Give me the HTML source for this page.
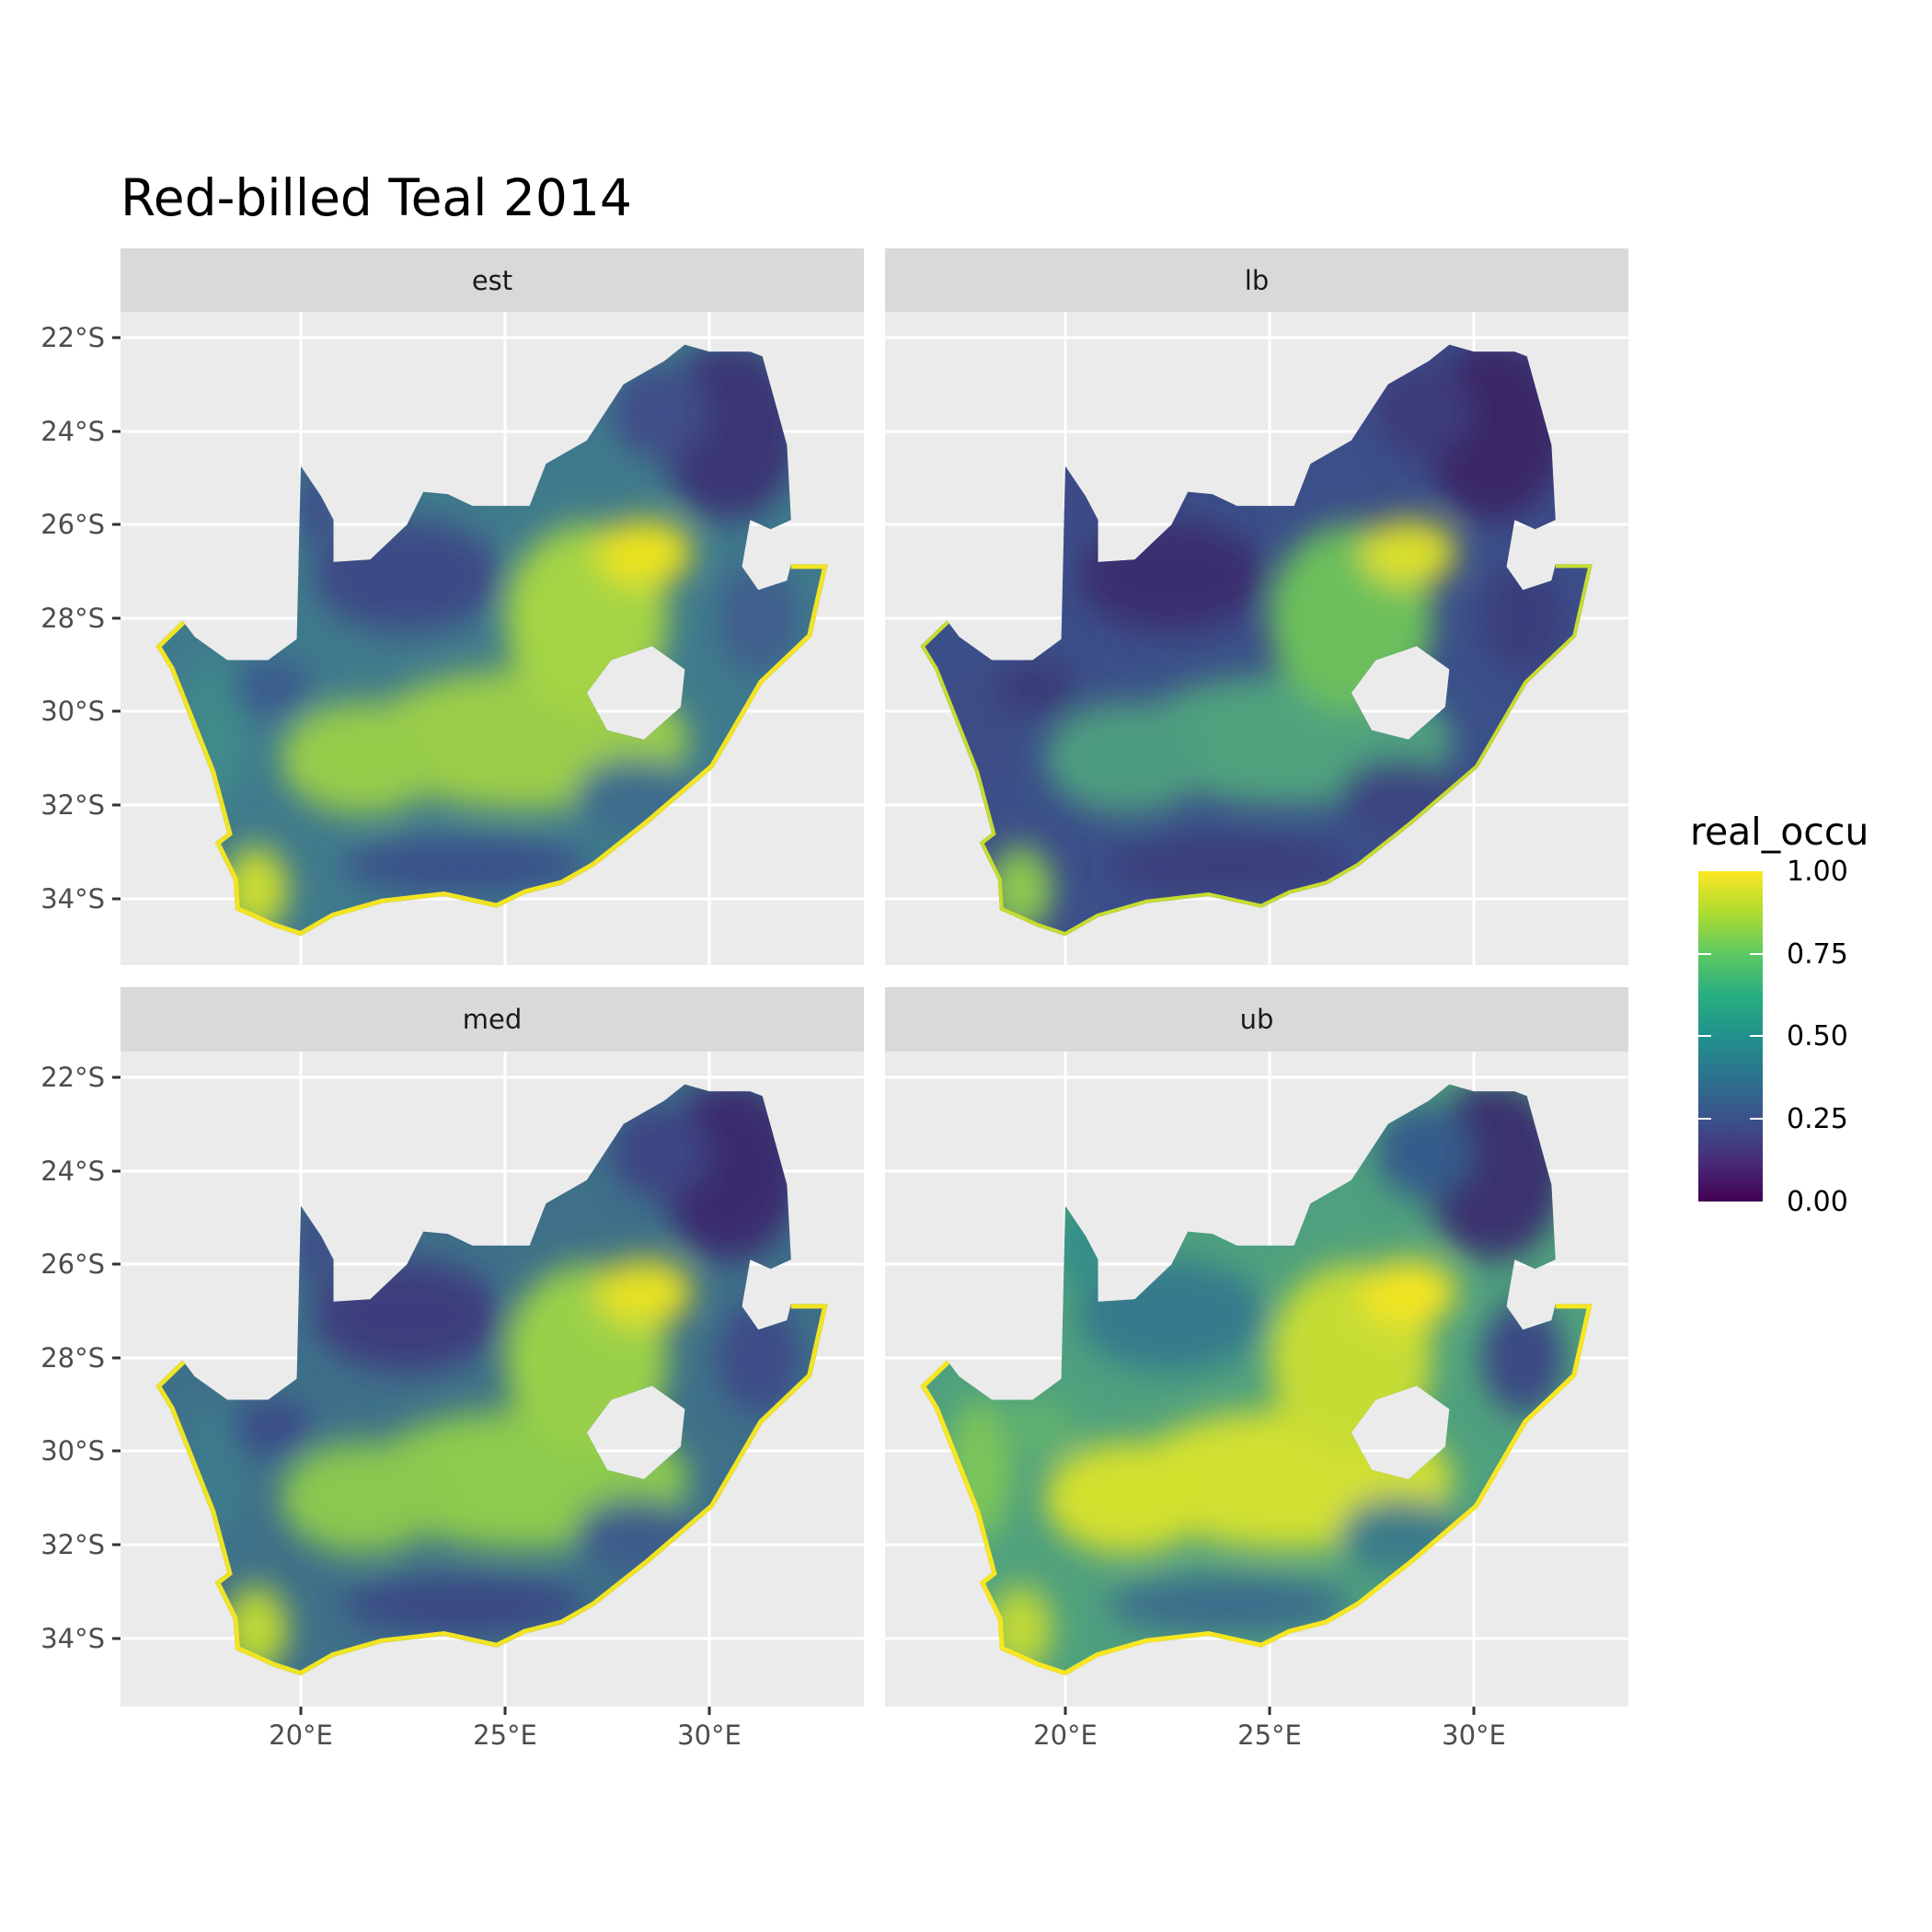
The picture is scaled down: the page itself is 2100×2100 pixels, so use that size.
<!DOCTYPE html>
<html><head><meta charset="utf-8"><style>html,body{margin:0;padding:0;background:#fff}svg{display:block}text{font-family:"DejaVu Sans","Liberation Sans",sans-serif}</style></head>
<body>
<svg width="2100" height="2100" viewBox="0 0 2100 2100" xmlns="http://www.w3.org/2000/svg">
<defs>
<linearGradient id="vir" x1="0" y1="1" x2="0" y2="0">
<stop offset="0" stop-color="#440154"/><stop offset="0.125" stop-color="#472d7b"/><stop offset="0.25" stop-color="#3b528b"/><stop offset="0.375" stop-color="#2c728e"/><stop offset="0.5" stop-color="#21918c"/><stop offset="0.625" stop-color="#28ae80"/><stop offset="0.75" stop-color="#5ec962"/><stop offset="0.875" stop-color="#addc30"/><stop offset="1" stop-color="#fde725"/>
</linearGradient>
<clipPath id="clip"><path clip-rule="evenodd" d="M16.45,28.6 L17.1,28.05 L17.4,28.4 L18.2,28.9 L19.2,28.9 L19.9,28.45 L20.0,24.75 L20.5,25.4 L20.8,25.9 L20.8,26.8 L21.7,26.75 L22.6,26.0 L23.0,25.3 L23.6,25.35 L24.2,25.6 L25.6,25.6 L26.0,24.7 L27.0,24.2 L27.9,23.0 L28.9,22.5 L29.4,22.15 L30.0,22.3 L31.0,22.3 L31.3,22.4 L31.9,24.3 L32.0,25.9 L31.5,26.1 L31.0,25.9 L30.9,26.4 L30.8,26.9 L31.2,27.4 L31.9,27.2 L32.0,26.85 L32.9,26.85 L32.5,28.4 L31.3,29.4 L30.1,31.2 L28.5,32.4 L27.2,33.3 L26.4,33.7 L25.5,33.9 L24.8,34.2 L23.5,33.95 L22.0,34.1 L20.8,34.4 L20.0,34.8 L19.3,34.6 L18.8,34.4 L18.4,34.25 L18.35,33.6 L17.9,32.8 L18.2,32.6 L17.8,31.3 L16.8,29.1 Z M27.0,29.6 L27.6,28.9 L28.6,28.6 L29.4,29.1 L29.3,29.9 L28.4,30.6 L27.5,30.4 Z"/></clipPath>
<filter id="bl" x="-20%" y="-20%" width="140%" height="140%"><feGaussianBlur stdDeviation="0.35"/></filter>
</defs>

<text x="131" y="234" font-size="55" fill="#000">Red-billed Teal 2014</text>

<g fill="#ebebeb"><rect x="131" y="339" width="808" height="710"/><rect x="962" y="339" width="808" height="710"/><rect x="131" y="1143" width="808" height="712"/><rect x="962" y="1143" width="808" height="712"/></g>
<g fill="#d9d9d9"><rect x="131" y="270" width="808" height="69"/><rect x="962" y="270" width="808" height="69"/><rect x="131" y="1073" width="808" height="70"/><rect x="962" y="1073" width="808" height="70"/></g>
<g font-size="29" fill="#1a1a1a" text-anchor="middle"><text x="535" y="315">est</text><text x="1366" y="315">lb</text><text x="535" y="1118">med</text><text x="1366" y="1118">ub</text></g>

<g stroke="#fff" stroke-width="3">
<path d="M327,339V1049M549,339V1049M771,339V1049M1158,339V1049M1380,339V1049M1602,339V1049M327,1143V1855M549,1143V1855M771,1143V1855M1158,1143V1855M1380,1143V1855M1602,1143V1855"/>
<path d="M131,367H939M131,469H939M131,570H939M131,672H939M131,773H939M131,875H939M131,977H939M962,367H1770M962,469H1770M962,570H1770M962,672H1770M962,773H1770M962,875H1770M962,977H1770"/>
<path d="M131,1171H939M131,1273H939M131,1374H939M131,1476H939M131,1577H939M131,1679H939M131,1781H939M962,1171H1770M962,1273H1770M962,1374H1770M962,1476H1770M962,1577H1770M962,1679H1770M962,1781H1770"/>
</g>

<g transform="translate(327,367) scale(44.4,50.8) translate(-20,-22)">
 <g clip-path="url(#clip)"><rect x="15" y="21" width="19" height="15" fill="#3f7a8c"/>
  <g filter="url(#bl)">
  <ellipse cx="25.5" cy="30.6" rx="4" ry="1.5" fill="#9ccd4a"/><ellipse cx="27" cy="28" rx="2" ry="2" fill="#a4d444"/><ellipse cx="21.5" cy="31" rx="2" ry="1.2" fill="#98cc4c"/>
  <ellipse cx="28.4" cy="26.6" rx="1.2" ry="0.7" fill="#ece31f"/><ellipse cx="22.6" cy="27.1" rx="2.3" ry="1.2" fill="#3d4986"/><ellipse cx="30.5" cy="24" rx="1.7" ry="1.9" fill="#3b3474"/><ellipse cx="28.8" cy="23.6" rx="1.2" ry="1" fill="#3f4e88"/>
  <ellipse cx="24" cy="33.3" rx="3" ry="0.6" fill="#3b4f8a"/><ellipse cx="18.9" cy="33.8" rx="0.8" ry="0.9" fill="#c8dc30"/><ellipse cx="17.9" cy="30.4" rx="0.8" ry="1.5" fill="#3f8a8a"/><ellipse cx="19.3" cy="29.5" rx="1" ry="0.6" fill="#3b5a8e"/>
  <ellipse cx="31.2" cy="28" rx="1" ry="1.2" fill="#3f5f8d"/><ellipse cx="28.2" cy="31.8" rx="1.5" ry="0.8" fill="#3e6c8c"/><ellipse cx="20.4" cy="25.6" rx="0.5" ry="0.9" fill="#3e4e89"/></g>
  <path fill="none" stroke="#f2e424" stroke-width="10" vector-effect="non-scaling-stroke" d="M32.0,26.85 L32.9,26.85 L32.5,28.4 L31.3,29.4 L30.1,31.2 L28.5,32.4 L27.2,33.3 L26.4,33.7 L25.5,33.9 L24.8,34.2 L23.5,33.95 L22.0,34.1 L20.8,34.4 L20.0,34.8 L19.3,34.6 L18.8,34.4 L18.4,34.25 L18.35,33.6 L17.9,32.8 L18.2,32.6 L17.8,31.3 L16.8,29.1 L16.45,28.6 L17.1,28.05"/></g></g>

<g transform="translate(1158,367) scale(44.4,50.8) translate(-20,-22)">
 <g clip-path="url(#clip)"><rect x="15" y="21" width="19" height="15" fill="#3b4f89"/>
  <g filter="url(#bl)">
  <ellipse cx="25.5" cy="30.6" rx="4" ry="1.4" fill="#4fa27e"/><ellipse cx="27" cy="28" rx="2" ry="2" fill="#6cbf5c"/><ellipse cx="21.5" cy="31" rx="2" ry="1.2" fill="#4e9c80"/>
  <ellipse cx="28.4" cy="26.6" rx="1.2" ry="0.7" fill="#dbe02c"/><ellipse cx="22.6" cy="27.1" rx="2.3" ry="1.2" fill="#3a2f70"/><ellipse cx="30.5" cy="24" rx="1.7" ry="1.9" fill="#3a2566"/><ellipse cx="28.8" cy="23.6" rx="1.2" ry="1" fill="#3d3a7a"/>
  <ellipse cx="24" cy="33.3" rx="3" ry="0.6" fill="#3a3d7c"/><ellipse cx="18.9" cy="33.8" rx="0.8" ry="0.9" fill="#8cc850"/><ellipse cx="17.9" cy="30.4" rx="0.8" ry="1.5" fill="#3c4c86"/><ellipse cx="19.3" cy="29.5" rx="1" ry="0.6" fill="#3a3a78"/>
  <ellipse cx="31.2" cy="28" rx="1" ry="1.2" fill="#3b3d7c"/><ellipse cx="28.2" cy="31.8" rx="1.5" ry="0.8" fill="#3c4580"/><ellipse cx="20.4" cy="25.6" rx="0.5" ry="0.9" fill="#3c4a86"/></g>
  <path fill="none" stroke="#c8dc30" stroke-width="8" vector-effect="non-scaling-stroke" d="M32.0,26.85 L32.9,26.85 L32.5,28.4 L31.3,29.4 L30.1,31.2 L28.5,32.4 L27.2,33.3 L26.4,33.7 L25.5,33.9 L24.8,34.2 L23.5,33.95 L22.0,34.1 L20.8,34.4 L20.0,34.8 L19.3,34.6 L18.8,34.4 L18.4,34.25 L18.35,33.6 L17.9,32.8 L18.2,32.6 L17.8,31.3 L16.8,29.1 L16.45,28.6 L17.1,28.05"/></g></g>

<g transform="translate(327,1171) scale(44.4,50.8) translate(-20,-22)">
 <g clip-path="url(#clip)"><rect x="15" y="21" width="19" height="15" fill="#3e7089"/>
  <g filter="url(#bl)">
  <ellipse cx="25.5" cy="30.6" rx="4" ry="1.5" fill="#8ccb4e"/><ellipse cx="27" cy="28" rx="2" ry="2" fill="#9ad048"/><ellipse cx="21.5" cy="31" rx="2" ry="1.2" fill="#8ac850"/>
  <ellipse cx="28.4" cy="26.6" rx="1.2" ry="0.7" fill="#e8e220"/><ellipse cx="22.6" cy="27.1" rx="2.3" ry="1.2" fill="#3c3e7e"/><ellipse cx="30.5" cy="24" rx="1.7" ry="1.9" fill="#3a2c6e"/><ellipse cx="28.8" cy="23.6" rx="1.2" ry="1" fill="#3e4584"/>
  <ellipse cx="24" cy="33.3" rx="3" ry="0.6" fill="#3b4684"/><ellipse cx="18.9" cy="33.8" rx="0.8" ry="0.9" fill="#bcd834"/><ellipse cx="17.9" cy="30.4" rx="0.8" ry="1.5" fill="#3e7a8c"/><ellipse cx="19.3" cy="29.5" rx="1" ry="0.6" fill="#3b4c88"/>
  <ellipse cx="31.2" cy="28" rx="1" ry="1.2" fill="#3d4c88"/><ellipse cx="28.2" cy="31.8" rx="1.5" ry="0.8" fill="#3d5c8a"/><ellipse cx="20.4" cy="25.6" rx="0.5" ry="0.9" fill="#3d4c88"/></g>
  <path fill="none" stroke="#f0e424" stroke-width="10" vector-effect="non-scaling-stroke" d="M32.0,26.85 L32.9,26.85 L32.5,28.4 L31.3,29.4 L30.1,31.2 L28.5,32.4 L27.2,33.3 L26.4,33.7 L25.5,33.9 L24.8,34.2 L23.5,33.95 L22.0,34.1 L20.8,34.4 L20.0,34.8 L19.3,34.6 L18.8,34.4 L18.4,34.25 L18.35,33.6 L17.9,32.8 L18.2,32.6 L17.8,31.3 L16.8,29.1 L16.45,28.6 L17.1,28.05"/></g></g>

<g transform="translate(1158,1171) scale(44.4,50.8) translate(-20,-22)">
 <g clip-path="url(#clip)"><rect x="15" y="21" width="19" height="15" fill="#4fa07e"/>
  <g filter="url(#bl)">
  <ellipse cx="25.5" cy="30.6" rx="4" ry="1.5" fill="#d2e030"/><ellipse cx="27" cy="28" rx="2" ry="2" fill="#c6dc34"/><ellipse cx="21.5" cy="31" rx="2" ry="1.2" fill="#d4e02e"/>
  <ellipse cx="28.4" cy="26.6" rx="1.2" ry="0.7" fill="#f4e524"/><ellipse cx="22.6" cy="27.1" rx="2.3" ry="1.2" fill="#357a8c"/><ellipse cx="30.5" cy="24" rx="1.7" ry="1.9" fill="#3b3070"/><ellipse cx="28.8" cy="23.6" rx="1.2" ry="1" fill="#345c8a"/>
  <ellipse cx="24" cy="33.3" rx="3" ry="0.6" fill="#3a6a8c"/><ellipse cx="18.9" cy="33.8" rx="0.8" ry="0.9" fill="#c0d838"/><ellipse cx="17.9" cy="30.4" rx="0.8" ry="1.5" fill="#7cc45a"/><ellipse cx="19.3" cy="29.5" rx="1" ry="0.6" fill="#5eb070"/>
  <ellipse cx="31.2" cy="28" rx="1" ry="1.2" fill="#3b4a84"/><ellipse cx="28.2" cy="31.8" rx="1.5" ry="0.8" fill="#3a7a8a"/><ellipse cx="20.4" cy="25.6" rx="0.5" ry="0.9" fill="#2f8a8a"/></g>
  <path fill="none" stroke="#f8e622" stroke-width="10" vector-effect="non-scaling-stroke" d="M32.0,26.85 L32.9,26.85 L32.5,28.4 L31.3,29.4 L30.1,31.2 L28.5,32.4 L27.2,33.3 L26.4,33.7 L25.5,33.9 L24.8,34.2 L23.5,33.95 L22.0,34.1 L20.8,34.4 L20.0,34.8 L19.3,34.6 L18.8,34.4 L18.4,34.25 L18.35,33.6 L17.9,32.8 L18.2,32.6 L17.8,31.3 L16.8,29.1 L16.45,28.6 L17.1,28.05"/></g></g>

<g stroke="#333" stroke-width="3"><path d="M122,367H131M122,469H131M122,570H131M122,672H131M122,773H131M122,875H131M122,977H131M122,1171H131M122,1273H131M122,1374H131M122,1476H131M122,1577H131M122,1679H131M122,1781H131M327,1855V1864M549,1855V1864M771,1855V1864M1158,1855V1864M1380,1855V1864M1602,1855V1864"/></g>
<g font-size="29" fill="#4d4d4d" text-anchor="end">
<text x="114" y="377">22°S</text><text x="114" y="479">24°S</text><text x="114" y="580">26°S</text><text x="114" y="682">28°S</text><text x="114" y="783">30°S</text><text x="114" y="885">32°S</text><text x="114" y="987">34°S</text>
<text x="114" y="1181">22°S</text><text x="114" y="1283">24°S</text><text x="114" y="1384">26°S</text><text x="114" y="1486">28°S</text><text x="114" y="1587">30°S</text><text x="114" y="1689">32°S</text><text x="114" y="1791">34°S</text>
</g>
<g font-size="29" fill="#4d4d4d" text-anchor="middle">
<text x="327" y="1896">20°E</text><text x="549" y="1896">25°E</text><text x="771" y="1896">30°E</text><text x="1158" y="1896">20°E</text><text x="1380" y="1896">25°E</text><text x="1602" y="1896">30°E</text>
</g>

<text x="1837" y="918" font-size="41" fill="#000">real_occu</text>
<rect x="1846" y="947" width="70" height="359" fill="url(#vir)"/>
<g stroke="#fff" stroke-width="2"><path d="M1846,1037H1860M1902,1037H1916M1846,1126H1860M1902,1126H1916M1846,1216H1860M1902,1216H1916"/></g>
<g font-size="30" fill="#000"><text x="1942" y="957">1.00</text><text x="1942" y="1047">0.75</text><text x="1942" y="1136">0.50</text><text x="1942" y="1226">0.25</text><text x="1942" y="1316">0.00</text></g>
</svg>
</body></html>
